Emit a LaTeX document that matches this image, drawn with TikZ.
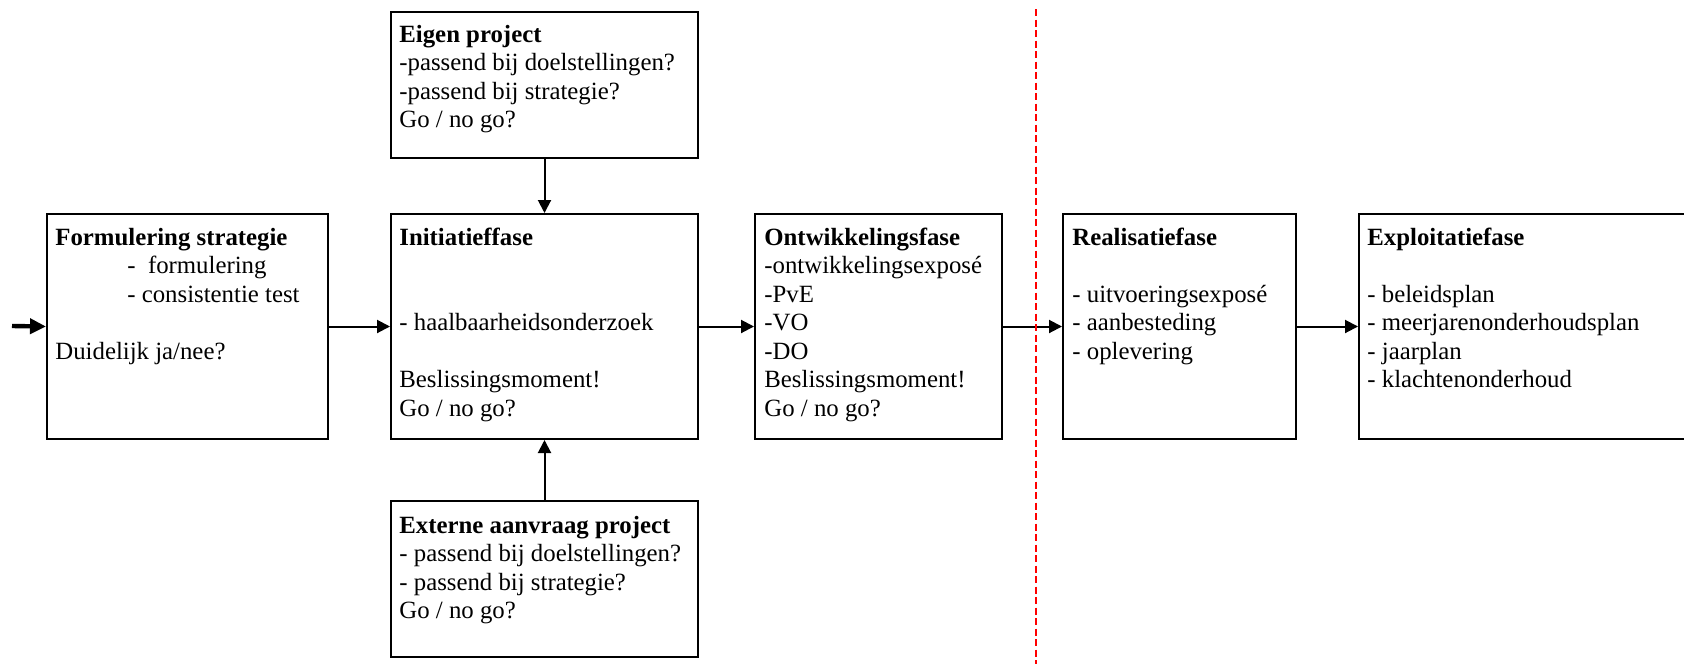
\documentclass[tikz,border=0pt]{standalone}
\usepackage{fontspec}
\setmainfont{Liberation Serif}
\usetikzlibrary{arrows.meta,calc}

% multi-line box contents, baseline on the first line
\newcommand{\boxlines}[1]{\begin{tabular}[t]{@{}l@{}}#1\end{tabular}}

\tikzset{
  phase/.style={draw, line width=1pt, inner sep=0pt, anchor=north west},
  boxtext/.style={anchor=base west, inner sep=0pt, font=\fontsize{12.4}{14.25}\selectfont},
  conn/.style={line width=1pt, -{Triangle[length=6.5pt,width=6.5pt]}},
  entryarrow/.style={line width=2.2pt, -{Triangle[length=8pt,width=7.5pt]}},
  cutline/.style={draw=red, line width=1pt, dash pattern=on 3.5pt off 1.75pt},
}

\begin{document}
\begin{tikzpicture}[x=0.5pt,y=-0.5pt]
\clip (0,0) rectangle (1684,664);

% boxes
\node[phase, minimum width=153.5pt, minimum height=73pt]   (eigen) at (390,11)  {};
\node[phase, minimum width=140.5pt, minimum height=112.5pt] (form)  at (46,213)  {};
\node[phase, minimum width=153.5pt, minimum height=112.5pt] (init)  at (390,213) {};
\node[phase, minimum width=123.5pt, minimum height=112.5pt] (ontw)  at (754,213) {};
\node[phase, minimum width=116.5pt, minimum height=112.5pt] (real)  at (1062,213) {};
\node[phase, minimum width=181pt,   minimum height=112.5pt] (expl)  at (1358,213) {};
\node[phase, minimum width=153.5pt, minimum height=78pt]   (ext)   at (390,500) {};

% box contents
\node[boxtext] (eigentxt) at ($(eigen.north west)+(9,31)$) {\boxlines{%
  \textbf{Eigen project}\\
  -passend bij doelstellingen?\\
  -passend bij strategie?\\
  Go / no go?}};
\node[boxtext] (formtxt) at ($(form.north west)+(9,32)$) {\boxlines{%
  \textbf{Formulering strategie}\\
  \hspace*{36pt}-~ formulering\\
  \hspace*{36pt}- consistentie test\\
  \\
  Duidelijk ja/nee?}};
\node[boxtext] (inittxt) at ($(init.north west)+(9,32)$) {\boxlines{%
  \textbf{Initiatieffase}\\
  \\
  \\
  - haalbaarheidsonderzoek\\
  \\
  Beslissingsmoment!\\
  Go / no go?}};
\node[boxtext] (ontwtxt) at ($(ontw.north west)+(10,32)$) {\boxlines{%
  \textbf{Ontwikkelingsfase}\\
  -ontwikkelingsexposé\\
  -PvE\\
  -VO\\
  -DO\\
  Beslissingsmoment!\\
  Go / no go?}};
\node[boxtext] (realtxt) at ($(real.north west)+(10,32)$) {\boxlines{%
  \textbf{Realisatiefase}\\
  \\
  - uitvoeringsexposé\\
  - aanbesteding\\
  - oplevering}};
\node[boxtext] (expltxt) at ($(expl.north west)+(9,32)$) {\boxlines{%
  \textbf{Exploitatiefase}\\
  \\
  - beleidsplan\\
  - meerjarenonderhoudsplan\\
  - jaarplan\\
  - klachtenonderhoud}};
\node[boxtext] (exttxt) at ($(ext.north west)+(9,33)$) {\boxlines{%
  \textbf{Externe aanvraag project}\\
  - passend bij doelstellingen?\\
  - passend bij strategie?\\
  Go / no go?}};

% connectors
\coordinate (entry) at (12,326);
\draw[entryarrow] (entry) -- (form.west);
\draw[conn] (form.east) -- (init.west);
\draw[conn] (init.east) -- (ontw.west);
\draw[conn] (ontw.east) -- (real.west);
\draw[conn] (real.east) -- (expl.west);
\draw[conn] (eigen.south) -- (init.north);
\draw[conn] (ext.north) -- (init.south);

% boundary between development and realisation
\coordinate (cuttop) at (1036,9);
\coordinate (cutbot) at (1036,664);
\draw[cutline] (cuttop) -- (cutbot);
\end{tikzpicture}
\end{document}
